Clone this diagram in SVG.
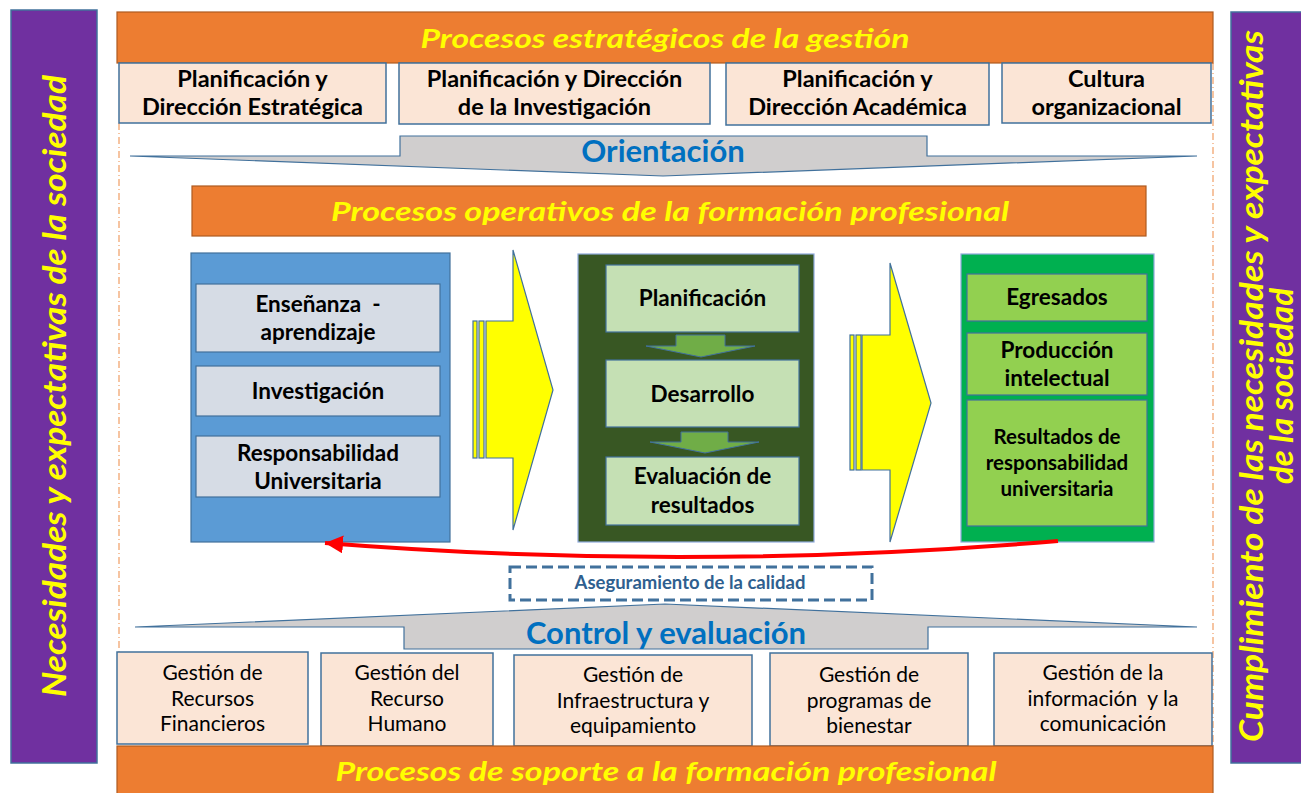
<svg xmlns="http://www.w3.org/2000/svg" width="1301" height="793" viewBox="0 0 1301 793">
<defs>
<style>
.t{font-family:Lato,"Liberation Sans",sans-serif;text-anchor:middle}
.b{font-weight:bold}
.banner{fill:#ed7d31;stroke:#ae5a21;stroke-width:1.2}
.bt{font-family:Lato,"Liberation Sans",sans-serif;font-weight:bold;font-style:italic;fill:#ffff00;text-anchor:middle}
.peach{fill:#fbe5d6;stroke:#41719c;stroke-width:1.5}
.purple{fill:#7030a0;stroke:#41719c;stroke-width:1.5}
.gray{fill:#d0cece;stroke:#41719c;stroke-width:1.2}
.yel{fill:#ffff00;stroke:#41719c;stroke-width:1.2}
.garr{fill:#70ad47;stroke:#41719c;stroke-width:1}
.blue{fill:#0070c0}
.dash{stroke:#f4b183;stroke-width:1.5;fill:none;stroke-dasharray:7,3,1,3}
.top{font-size:23.5px}
.mid{font-size:22.5px}
.low{font-size:21px}
</style>
<marker id="redhead" markerUnits="userSpaceOnUse" markerWidth="22" markerHeight="20" refX="18" refY="9" orient="auto">
<path d="M0,0 L18,9 L0,18 Z" fill="#ff0000"/>
</marker>
</defs>
<rect width="1301" height="793" fill="#ffffff"/>

<g id="guides">
<line class="dash" x1="119" y1="123" x2="119" y2="652"/>
<line class="dash" x1="1213" y1="63" x2="1213" y2="746"/>
</g>

<g id="left-side">
<rect class="purple" x="11" y="10" width="86" height="753"/>
<text class="bt" font-size="33" transform="translate(66,386) rotate(-90)" textLength="622" lengthAdjust="spacingAndGlyphs">Necesidades y expectativas de la sociedad</text>
</g>

<g id="right-side">
<rect class="purple" x="1231" y="12" width="90" height="751"/>
<text class="bt" font-size="33" transform="translate(1263,386) rotate(-90)" textLength="712" lengthAdjust="spacingAndGlyphs">Cumplimiento de las necesidades y expectativas</text>
<text class="bt" font-size="33" transform="translate(1293,386) rotate(-90)">de la sociedad</text>
</g>

<g id="estrategicos">
<rect class="banner" x="117" y="12" width="1096" height="51"/>
<text class="bt" x="665" y="48" font-size="27" textLength="489" lengthAdjust="spacingAndGlyphs">Procesos estratégicos de la gestión</text>
</g>

<g id="plan-estrategica">
<rect class="peach" x="119" y="63" width="267" height="60"/>
<text class="t b top" x="252.5" y="87">Planificación y</text>
<text class="t b top" x="252.5" y="115">Dirección Estratégica</text>
</g>
<g id="plan-investigacion">
<rect class="peach" x="399" y="63" width="311" height="61"/>
<text class="t b top" x="554.5" y="87">Planificación y Dirección</text>
<text class="t b top" x="554.5" y="115">de la Investigación</text>
</g>
<g id="plan-academica">
<rect class="peach" x="726" y="63" width="263" height="62"/>
<text class="t b top" x="857.5" y="87">Planificación y</text>
<text class="t b top" x="857.5" y="115">Dirección Académica</text>
</g>
<g id="cultura">
<rect class="peach" x="1002" y="63" width="209" height="60"/>
<text class="t b top" x="1106.5" y="87">Cultura</text>
<text class="t b top" x="1106.5" y="115">organizacional</text>
</g>

<g id="orientacion">
<polygon class="gray" points="130,156 400,156 400,136 927,136 927,156 1197,156 663,176"/>
<text class="t b blue" x="663" y="162" font-size="31">Orientación</text>
</g>

<g id="operativos">
<rect class="banner" x="192" y="186" width="954" height="50"/>
<text class="bt" x="670" y="221" font-size="27" textLength="678" lengthAdjust="spacingAndGlyphs">Procesos operativos de la formación profesional</text>
</g>

<g id="entradas">
<rect x="191" y="253" width="259" height="289" fill="#5b9bd5" stroke="#41719c" stroke-width="1.2"/>
<rect x="196" y="284" width="244" height="68" fill="#d6dce5" stroke="#41719c" stroke-width="1.2"/>
<rect x="196" y="366" width="244" height="50" fill="#d6dce5" stroke="#41719c" stroke-width="1.2"/>
<rect x="196" y="436" width="244" height="61" fill="#d6dce5" stroke="#41719c" stroke-width="1.2"/>
<text class="t b mid" x="318" y="312" xml:space="preserve">Enseñanza  -</text>
<text class="t b mid" x="318" y="340">aprendizaje</text>
<text class="t b mid" x="318" y="399">Investigación</text>
<text class="t b mid" x="318" y="461">Responsabilidad</text>
<text class="t b mid" x="318" y="489">Universitaria</text>
</g>

<g id="proceso">
<rect x="578" y="254" width="236" height="288" fill="#385723" stroke="#8faadc" stroke-width="1.2"/>
<rect x="606" y="265" width="193" height="67" fill="#c5e0b4" stroke="#41719c" stroke-width="1.2"/>
<rect x="606" y="360" width="193" height="67" fill="#c5e0b4" stroke="#41719c" stroke-width="1.2"/>
<rect x="606" y="457" width="193" height="68" fill="#c5e0b4" stroke="#41719c" stroke-width="1.2"/>
<text class="t b mid" x="702.5" y="306">Planificación</text>
<text class="t b mid" x="702.5" y="402">Desarrollo</text>
<text class="t b mid" x="702.5" y="484">Evaluación de</text>
<text class="t b mid" x="702.5" y="513">resultados</text>
</g>

<g id="salidas">
<rect x="961" y="254" width="193" height="288" fill="#00b050" stroke="#8faadc" stroke-width="1.2"/>
<rect x="967" y="274" width="180" height="47" fill="#92d050" stroke="#41719c" stroke-width="1.2"/>
<rect x="967" y="333" width="180" height="62" fill="#92d050" stroke="#41719c" stroke-width="1.2"/>
<rect x="967" y="400" width="180" height="126" fill="#92d050" stroke="#41719c" stroke-width="1.2"/>
<text class="t b mid" x="1057" y="305">Egresados</text>
<text class="t b mid" x="1057" y="358">Producción</text>
<text class="t b mid" x="1057" y="386">intelectual</text>
<text class="t b" x="1057" y="444" font-size="20.5">Resultados de</text>
<text class="t b" x="1057" y="470" font-size="20.5">responsabilidad</text>
<text class="t b" x="1057" y="496" font-size="20.5">universitaria</text>
</g>

<g id="aseguramiento">
<rect x="510" y="567" width="362" height="33" fill="none" stroke="#41719c" stroke-width="3" stroke-dasharray="11,5"/>
<text class="t b" x="690" y="589" font-size="18.5" fill="#2f5f8f">Aseguramiento de la calidad</text>
</g>

<g id="control">
<polygon class="gray" points="135,627 404,627 404,649 928,649 928,627 1197,627 665,604"/>
<text class="t b blue" x="666" y="644" font-size="31">Control y evaluación</text>
</g>

<g id="financieros">
<rect class="peach" x="117" y="652" width="191" height="92"/>
<text class="t low" x="212.5" y="680">Gestión de</text>
<text class="t low" x="212.5" y="706">Recursos</text>
<text class="t low" x="212.5" y="731">Financieros</text>
</g>
<g id="humano">
<rect class="peach" x="321" y="653" width="172" height="93"/>
<text class="t low" x="407" y="680">Gestión del</text>
<text class="t low" x="407" y="706">Recurso</text>
<text class="t low" x="407" y="731">Humano</text>
</g>
<g id="infraestructura">
<rect class="peach" x="514" y="655" width="238" height="91"/>
<text class="t low" x="633" y="682">Gestión de</text>
<text class="t low" x="633" y="708">Infraestructura y</text>
<text class="t low" x="633" y="733">equipamiento</text>
</g>
<g id="bienestar">
<rect class="peach" x="770" y="653" width="198" height="93"/>
<text class="t low" x="869" y="682">Gestión de</text>
<text class="t low" x="869" y="708">programas de</text>
<text class="t low" x="869" y="733">bienestar</text>
</g>
<g id="informacion">
<rect class="peach" x="994" y="653" width="218" height="93"/>
<text class="t low" x="1103" y="680">Gestión de la</text>
<text class="t low" x="1103" y="706" xml:space="preserve">información  y la</text>
<text class="t low" x="1103" y="731">comunicación</text>
</g>

<g id="soporte">
<rect class="banner" x="117" y="746" width="1096" height="52"/>
<text class="bt" x="666" y="781" font-size="27" textLength="661" lengthAdjust="spacingAndGlyphs">Procesos de soporte a la formación profesional</text>
</g>

<g id="connectors">
<rect class="yel" x="473" y="321" width="4" height="137"/>
<rect class="yel" x="479" y="321" width="5" height="137"/>
<polygon class="yel" points="486,321 513,321 513,250 553,390 513,530 513,458 486,458"/>
<rect class="yel" x="850" y="335" width="4" height="135"/>
<rect class="yel" x="856" y="335" width="5" height="135"/>
<polygon class="yel" points="862,335 890,335 890,263 931,403 890,542 890,470 862,470"/>
<polygon class="garr" points="676,335 725,335 725,346 755,346 701,357 646,346 676,346"/>
<polygon class="garr" points="681,432 728,432 728,442 759,442 705,453 650,442 681,442"/>
<path d="M1058,541 Q690,572 325,543" fill="none" stroke="#ff0000" stroke-width="4" marker-end="url(#redhead)"/>
</g>
</svg>
